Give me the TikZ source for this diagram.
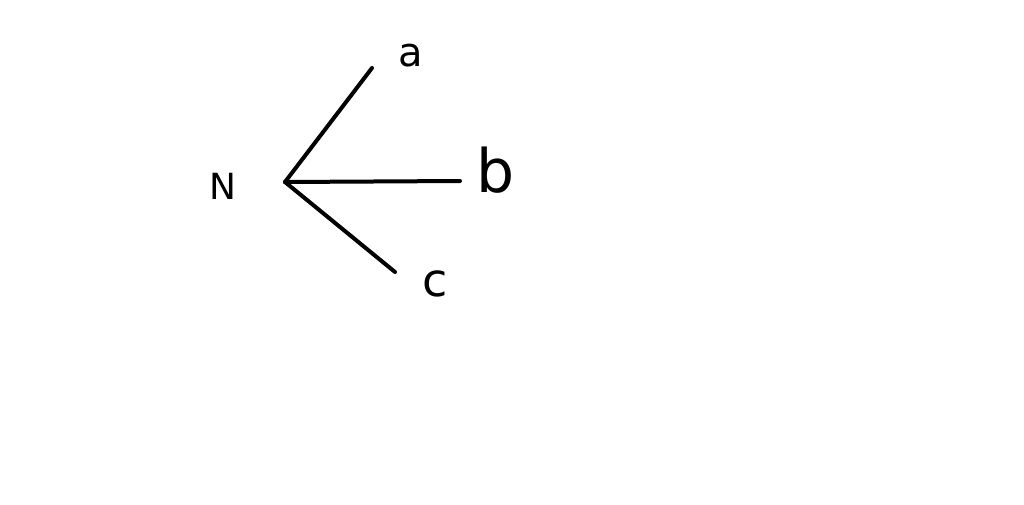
\documentclass[tikz,border=0pt]{standalone}
\usepackage{fontspec}
\setmainfont{DejaVu Sans}
\begin{document}
\begin{tikzpicture}[x=1pt,y=-1pt,
  edge/.style={line width=4pt,line cap=round},
  lbl/.style={inner sep=0pt,font=\fontsize{36}{40}\selectfont}]
\useasboundingbox (0,0) rectangle (1024,504);
\coordinate (n) at (285,182);
\coordinate (ea) at (372,68);
\coordinate (eb) at (460,181);
\coordinate (ec) at (395,272);
\node[lbl] (N) at (223,186) {N};
\node[lbl,font=\fontsize{40}{44}\selectfont] (a) at (411,56) {a};
\node[lbl,font=\fontsize{60}{64}\selectfont] (b) at (496,170) {b};
\node[lbl,font=\fontsize{46}{50}\selectfont] (c) at (435,284) {c};
\draw[edge] (n) -- (ea);
\draw[edge] (n) -- (eb);
\draw[edge] (n) -- (ec);
\end{tikzpicture}
\end{document}
